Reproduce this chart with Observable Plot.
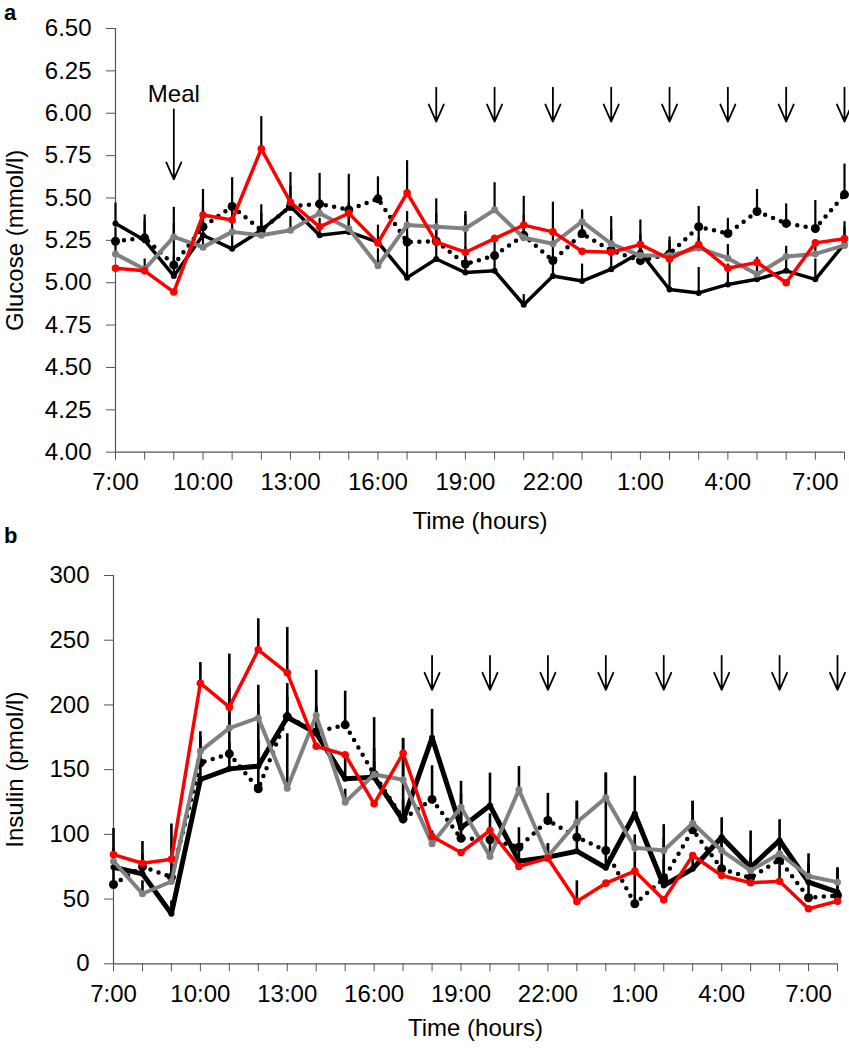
<!DOCTYPE html>
<html><head><meta charset="utf-8">
<script src="https://cdn.jsdelivr.net/npm/d3@7"></script>
<script src="https://cdn.jsdelivr.net/npm/@observablehq/plot@0.6"></script>
<style>
body{margin:0;background:#fff;}
#wrap{position:relative;width:849px;height:1050px;font-family:"Liberation Sans",Arial,sans-serif;}
#pa{position:absolute;left:0;top:0;}
#pb{position:absolute;left:0;top:540px;}
.lab{position:absolute;font-family:"Liberation Sans",Arial,sans-serif;font-weight:bold;font-size:22px;line-height:24px;}
</style></head><body>
<div id="wrap">
<div id="pa"></div><div id="pb"></div>
<div class="lab" style="left:4px;top:1px">a</div>
<div class="lab" style="left:4px;top:524px">b</div>
</div>
<script>
// hours after 7:00
const hours = [0,1,2,3,4,5,6,7,8,9,10,11,12,13,14,15,16,17,18,19,20,21,22,23,24,25];
const xTickHours = [0,3,6,9,12,15,18,21,24];
const xTickLabels = ["7:00","10:00","13:00","16:00","19:00","22:00","1:00","4:00","7:00"];
const doseHours = [11,13,15,17,19,21,23,25];

// Panel a: glucose (mmol/l)
const gluBlack  = [5.35,5.25,5.04,5.28,5.20,5.31,5.45,5.28,5.30,5.24,5.03,5.14,5.06,5.07,4.87,5.04,5.01,5.08,5.18,4.96,4.94,4.99,5.02,5.07,5.02,5.23];
const gluDotted = [5.245,5.265,5.105,5.33,5.45,5.31,5.45,5.465,5.43,5.495,5.24,5.245,5.11,5.16,5.28,5.13,5.29,5.19,5.13,5.17,5.33,5.29,5.42,5.35,5.32,5.52];
const gluGray   = [5.17,5.08,5.27,5.21,5.30,5.28,5.31,5.41,5.32,5.10,5.34,5.33,5.32,5.43,5.265,5.23,5.36,5.23,5.16,5.16,5.205,5.145,5.05,5.155,5.17,5.22];
const gluRed    = [5.085,5.07,4.945,5.40,5.37,5.79,5.475,5.33,5.41,5.235,5.53,5.24,5.18,5.26,5.34,5.30,5.185,5.18,5.225,5.14,5.225,5.085,5.12,5.00,5.235,5.26];
const gluBlackSE  = [0.12,0.15,0.12,0.27,0.10,0.15,0.20,0.10,0.12,0.10,0.25,0.18,0.12,0.10,0.06,0.10,0.10,0.12,0.19,0.31,0.15,0.12,0.13,0.10,0.12,0.10];
const gluDottedSE = [0.08,0.10,0.34,0.10,0.17,0.10,0.12,0.18,0.21,0.13,0.10,0.25,0.10,0.12,0.23,0.10,0.14,0.20,0.12,0.08,0.12,0.09,0.13,0.115,0.165,0.18];
const gluGraySE   = [0.06,0.06,0.08,0.06,0.08,0.08,0.08,0.08,0.08,0.10,0.08,0.08,0.08,0.16,0.08,0.08,0.06,0.08,0.08,0.06,0.06,0.08,0.08,0.06,0.06,0.06];
const gluRedSE    = [null,null,null,0.08,0.08,0.19,null,null,0.06,null,0.19,null,0.24,null,0.06,0.175,null,null,0.06,null,0.08,null,null,null,null,0.10];
const gluTicks = [4.00,4.25,4.50,4.75,5.00,5.25,5.50,5.75,6.00,6.25,6.50];

// Panel b: insulin (pmol/l)
const insBlack  = [74.6,69.5,38.6,142.4,150.6,152.7,190.5,178.2,142.9,144.2,110.7,174.6,105,122.3,79.3,82.4,87,74.2,115.9,60.5,73.4,97.8,74.6,95.3,63.1,55.3];
const insDotted = [61.3,75,67,155.3,162.2,135.2,191,179,184.6,146.3,112,127,97,95.8,90.1,110.7,97.8,87.5,46.4,65.7,103.5,73.4,66.4,80.4,51,52.8];
const insGray   = [79.3,54.1,63.6,164.3,182.1,190,135.7,191.8,124.9,146.3,142.2,92.7,121,82.9,134.4,82.9,109.4,128.2,89.6,87.5,108.6,87.5,72.1,85,67.7,63.1];
const insRed    = [84.4,77.7,80.8,216.8,198.3,242.6,224.8,168.1,161.5,123.6,162.7,98.4,86,103,75.2,81.6,48.1,62.3,71.6,49.4,83.7,68.2,62.6,63.8,42.5,48.4];
const insBlackSE  = [30,25,10,15,20,20,26,20,20,46,63,22,36,25,10,10,10,15,29,47,10,15,28,16,10,19];
const insDottedSE = [15,10,41,20,51,80,15,20,26,20,15,26,20,20,15,21,28,60,40,15,22,20,15,15,34,10];
const insGraySE   = [10,10,10,15,15,10,42,35,10,10,32,10,10,10,18,10,16,19,10,10,17,10,10,10,10,10];
const insRedSE    = [null,null,null,16,41,24,35,null,null,null,null,null,null,null,null,null,16,null,null,null,null,null,null,24,null,null];
const insTicks = [0,50,100,150,200,250,300];

const FONT = '"Liberation Sans",Arial,sans-serif';

function rows(vals, se, series){
  return hours.map((h,i)=>({hour:h, value:vals[i], se:se[i], series}));
}
const tickMap = new Map(xTickHours.map((h,i)=>[h,xTickLabels[i]]));

// downward arrow with tip at the anchor point
function downArrow(wing, head){
  return {draw(ctx, l){ ctx.moveTo(0,0); ctx.lineTo(0,-l); ctx.moveTo(-wing,-head); ctx.lineTo(0,0); ctx.lineTo(wing,-head); }};
}

function panel(cfg){
  const all = [...cfg.black, ...cfg.dotted, ...cfg.gray, ...cfg.red];
  const errs = all.filter(d=>d.se!=null);
  return Plot.plot({
    width: 849, height: cfg.height,
    marginLeft: cfg.ml, marginRight: cfg.mr, marginTop: cfg.mt, marginBottom: cfg.mb,
    style: {fontFamily: FONT, fontSize: "24px", color: "#000", background: "#fff", overflow: "visible"},
    x: {domain: [0,25]},
    y: {domain: cfg.ydomain},
    marks: [
      Plot.axisX({ticks: hours, tickSize: 8, tickPadding: 13, stroke: "#555", fill: "#000",
        tickFormat: d => tickMap.get(d) ?? "", label: null}),
      Plot.axisY({ticks: cfg.yticks, tickSize: 9, tickPadding: 15, stroke: "#555", fill: "#000",
        tickFormat: cfg.yfmt, label: null}),
      Plot.ruleX([0], {stroke: "#555", strokeWidth: 1.2}),
      Plot.ruleY([cfg.ydomain[0]], {stroke: "#555", strokeWidth: 1.2}),
      Plot.ruleX(errs, {x: "hour", y1: "value", y2: d => d.value + d.se, stroke: "#000", strokeWidth: cfg.ew}),
      Plot.line(cfg.dotted, {x: "hour", y: "value", stroke: "#000", strokeWidth: 4.5, strokeDasharray: "0 8.5", strokeLinecap: "round"}),
      Plot.dot(cfg.dotted, {x: "hour", y: "value", r: 4.5, fill: "#000"}),
      Plot.line(cfg.black, {x: "hour", y: "value", stroke: "#000", strokeWidth: cfg.bw}),
      Plot.dot(cfg.black, {x: "hour", y: "value", r: 3, fill: "#000"}),
      Plot.line(cfg.gray, {x: "hour", y: "value", stroke: "#808080", strokeWidth: 4}),
      Plot.dot(cfg.gray, {x: "hour", y: "value", r: 3.5, fill: "#808080"}),
      Plot.line(cfg.red, {x: "hour", y: "value", stroke: "#ff0000", strokeWidth: 3.5}),
      Plot.dot(cfg.red, {x: "hour", y: "value", r: 3.8, fill: "#ff0000"}),
      Plot.vector(doseHours, {x: d => d, y: cfg.arrowTip, length: 34, anchor: "start", rotate: 0,
        shape: downArrow(7.5, 17), stroke: "#000", strokeWidth: 1.8}),
      ...(cfg.extra || []),
      Plot.text([cfg.xlabel], {frameAnchor: "bottom", dy: cfg.xlabDy, lineAnchor: "middle", fill: "#000"}),
      Plot.text([cfg.ylabel], {frameAnchor: "left", dx: cfg.ylabDx, rotate: -90, textAnchor: "middle", lineAnchor: "middle", fill: "#000"})
    ]
  });
}

const a = panel({
  height: 540, ml: 115, mr: 5, mt: 28, mb: 88.3,
  ydomain: [4, 6.5], yticks: gluTicks, yfmt: d3.format(".2f"), ew: 2.2, bw: 3.5,
  black: rows(gluBlack, gluBlackSE, "black"), dotted: rows(gluDotted, gluDottedSE, "dotted"),
  gray: rows(gluGray, gluGraySE, "gray"), red: rows(gluRed, gluRedSE, "red"),
  arrowTip: 5.951,
  extra: [
    Plot.vector([2], {x: d => d, y: 5.61, length: 70, anchor: "start", shape: downArrow(7.5, 17), stroke: "#000", strokeWidth: 1.8}),
    Plot.text(["Meal"], {x: 2, y: 6.11, fill: "#000", lineAnchor: "middle"})
  ],
  xlabel: "Time (hours)", xlabDy: 69, ylabel: "Glucose (mmol/l)", ylabDx: -100
});
const b = panel({
  height: 510, ml: 113, mr: 12, mt: 35, mb: 86.7,
  ydomain: [0, 300], yticks: insTicks, yfmt: d3.format("d"), ew: 2.6, bw: 5,
  black: rows(insBlack, insBlackSE, "black"), dotted: rows(insDotted, insDottedSE, "dotted"),
  gray: rows(insGray, insGraySE, "gray"), red: rows(insRed, insRedSE, "red"),
  arrowTip: 211.7,
  xlabel: "Time (hours)", xlabDy: 65, ylabel: "Insulin (pmol/l)", ylabDx: -98
});
document.getElementById("pa").append(a);
document.getElementById("pb").append(b);
</script>
</body></html>
